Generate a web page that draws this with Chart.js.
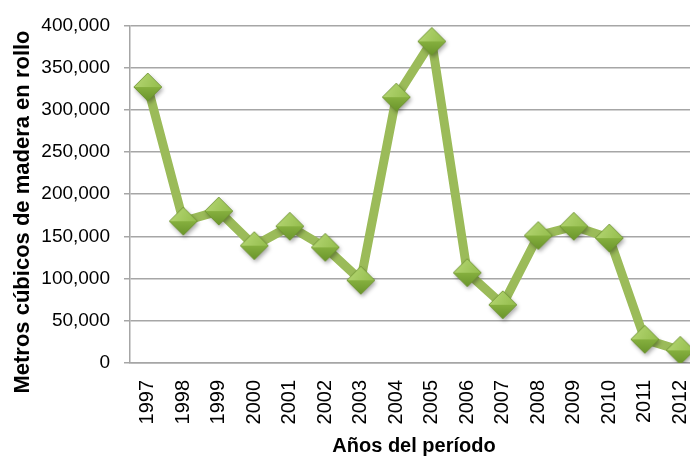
<!DOCTYPE html>
<html lang="es">
<head>
<meta charset="utf-8">
<title>Metros cúbicos de madera en rollo</title>
<script src="https://cdn.jsdelivr.net/npm/chart.js@4.4.1/dist/chart.umd.min.js"></script>
<style>
    html, body {
        margin: 0;
        padding: 0;
        background: #ffffff;
        overflow: hidden;
    }
    /* wider than the window: the plot runs past the right edge */
    #wrap {
        position: relative;
        width: 722px;
        height: 458px;
    }
</style>
</head>
<body>
<div id="wrap"><canvas id="volumeChart"></canvas></div>
<script>
    var years = ['1997', '1998', '1999', '2000', '2001', '2002', '2003', '2004',
        '2005', '2006', '2007', '2008', '2009', '2010', '2011', '2012'];
    var volumes = [327000, 168000, 180000, 139000, 162000, 137000, 98000, 315000,
        381000, 107000, 69000, 151000, 162000, 148000, 28000, 15000];
    var yTicks = [0, 50000, 100000, 150000, 200000, 250000, 300000, 350000, 400000];

    var FONT = '"Liberation Sans", Arial, sans-serif';

    // beveled diamond marker, drawn once and reused for every point
    function makeDiamond(r) {
        var pad = 7;
        var size = 2 * (r + pad);
        var c = document.createElement('canvas');
        c.width = size;
        c.height = size;
        var g = c.getContext('2d');
        var cx = size / 2, cy = size / 2;

        function path() {
            g.beginPath();
            g.moveTo(cx - r, cy);
            g.lineTo(cx, cy - r);
            g.lineTo(cx + r, cy);
            g.lineTo(cx, cy + r);
            g.closePath();
        }

        g.save();
        g.shadowColor = 'rgba(0, 0, 0, 0.35)';
        g.shadowBlur = 4;
        g.shadowOffsetX = 1.5;
        g.shadowOffsetY = 2.5;
        path();
        g.fillStyle = '#7fa63c';
        g.fill();
        g.restore();

        // upper half, lit from above
        var top = g.createLinearGradient(cx - r, cy - r, cx + r, cy);
        top.addColorStop(0, '#b8d876');
        top.addColorStop(1, '#93bd4c');
        g.beginPath();
        g.moveTo(cx - r, cy);
        g.lineTo(cx, cy - r);
        g.lineTo(cx + r, cy);
        g.closePath();
        g.fillStyle = top;
        g.fill();

        // lower half, in shade
        var bottom = g.createLinearGradient(cx, cy, cx, cy + r);
        bottom.addColorStop(0, '#86b03f');
        bottom.addColorStop(1, '#6a952b');
        g.beginPath();
        g.moveTo(cx - r, cy);
        g.lineTo(cx + r, cy);
        g.lineTo(cx, cy + r);
        g.closePath();
        g.fillStyle = bottom;
        g.fill();

        path();
        g.lineWidth = 0.8;
        g.strokeStyle = '#6b8f30';
        g.stroke();
        return c;
    }

    var yTitlePlugin = {
        id: 'yTitle',
        afterDraw: function (chart) {
            var ctx = chart.ctx;
            ctx.save();
            ctx.translate(23, 212);
            ctx.rotate(-Math.PI / 2);
            ctx.font = 'bold 22px ' + FONT;
            ctx.fillStyle = '#000000';
            ctx.textAlign = 'center';
            ctx.textBaseline = 'middle';
            ctx.fillText('Metros cúbicos de madera en rollo', 0, 0);
            ctx.restore();
        }
    };

    function initChart() {
        var el = document.getElementById('volumeChart');
        var diamond = makeDiamond(14);

        new Chart(el.getContext('2d'), {
            type: 'line',
            data: {
                labels: years,
                datasets: [{
                    label: 'Metros cúbicos',
                    data: volumes,
                    borderColor: '#9bbb59',
                    borderWidth: 9,
                    borderJoinStyle: 'round',
                    borderCapStyle: 'round',
                    tension: 0,
                    fill: false,
                    pointStyle: diamond,
                    pointRadius: 14,
                    pointHoverRadius: 14
                }]
            },
            options: {
                responsive: true,
                maintainAspectRatio: false,
                animation: false,
                layout: {
                    padding: { top: 25, right: 0, bottom: 0, left: 0 }
                },
                plugins: {
                    legend: { display: false },
                    tooltip: { enabled: false }
                },
                scales: {
                    x: {
                        type: 'category',
                        offset: true,
                        grid: { display: false, drawTicks: false },
                        border: { display: true, color: '#a6a6a6', width: 1.5 },
                        ticks: {
                            minRotation: 90,
                            maxRotation: 90,
                            padding: 17,
                            color: '#000000',
                            font: { family: FONT, size: 20 }
                        },
                        title: {
                            display: true,
                            text: 'Años del período',
                            color: '#000000',
                            font: { family: FONT, size: 20, weight: 'bold' },
                            padding: { top: 0, bottom: 0 }
                        },
                        afterFit: function (scale) {
                            scale.height = 95;
                        }
                    },
                    y: {
                        min: 0,
                        max: 400000,
                        afterBuildTicks: function (scale) {
                            scale.ticks = yTicks.map(function (v) { return { value: v }; });
                        },
                        grid: {
                            color: '#a6a6a6',
                            lineWidth: 1.5,
                            tickLength: 6
                        },
                        border: { display: true, color: '#a6a6a6', width: 1.5 },
                        ticks: {
                            padding: 14,
                            color: '#000000',
                            font: { family: FONT, size: 19 },
                            callback: function (value) {
                                return Number(value).toLocaleString('en-US');
                            }
                        },
                        afterFit: function (scale) {
                            scale.width = 130;
                        }
                    }
                }
            },
            plugins: [yTitlePlugin]
        });
    }

    if (document.readyState === 'loading') {
        document.addEventListener('DOMContentLoaded', initChart);
    } else {
        initChart();
    }
</script>
</body>
</html>
